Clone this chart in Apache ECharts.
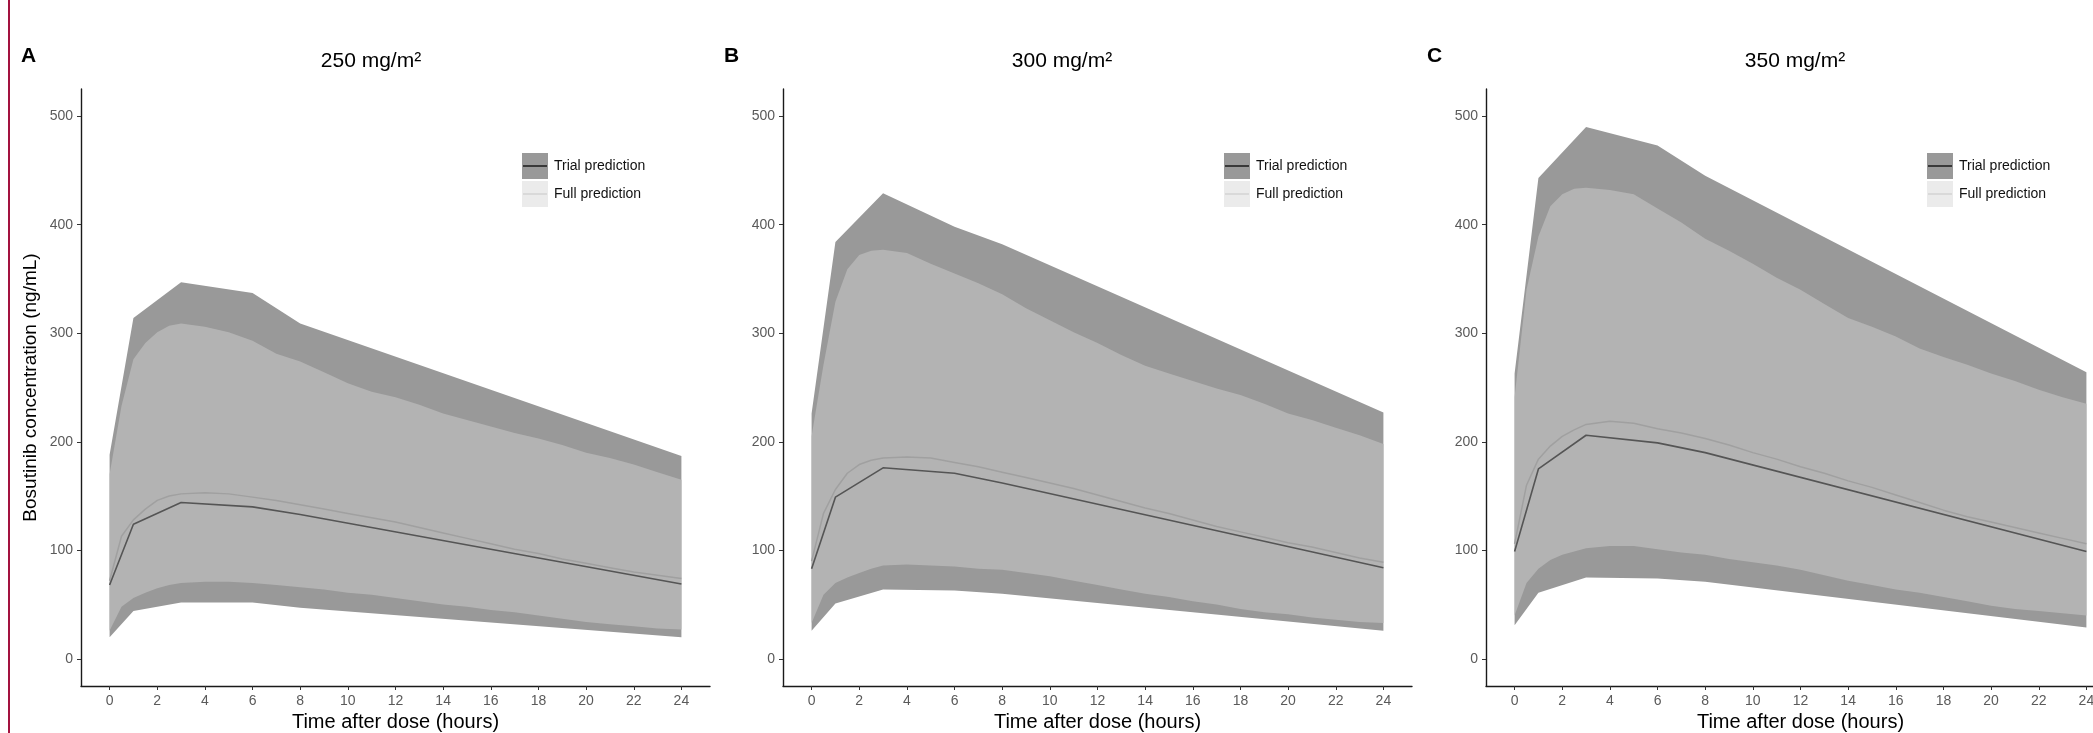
<!DOCTYPE html>
<html>
<head>
<meta charset="utf-8">
<script src="https://cdn.jsdelivr.net/npm/echarts@6/dist/echarts.min.js"></script>
<style>
  html, body { margin: 0; padding: 0; background: #fff; }
  #main { width: 2093px; height: 733px; }
</style>
</head>
<body>
<div id="main"></div>
<script>
// 数据：估计值
var panelTitles = ['250 mg/m²', '300 mg/m²', '350 mg/m²'];
var panelLetters = ['A', 'B', 'C'];
var xTicks = [0, 2, 4, 6, 8, 10, 12, 14, 16, 18, 20, 22, 24];
var yTicks = [0, 100, 200, 300, 400, 500];

// Trial prediction（采样时间点）
var trialTimes = [0, 1, 3, 6, 8, 24];
var trialUpper = [
    [188, 314, 347, 337, 309, 187],
    [226, 384, 429, 398, 382, 227],
    [263, 443, 490, 473, 445, 264]
];
var trialLower = [
    [20, 44, 52, 52, 47, 20],
    [26, 51, 64, 63, 60, 26],
    [31, 61, 75, 74, 71, 29]
];
var trialMean = [
    [68, 124, 144, 140, 133, 69],
    [83, 149, 176, 171, 162, 84],
    [99, 175, 206, 199, 190, 99]
];

// Full prediction（连续曲线）
var fullTimes = [0, 0.5, 1, 1.5, 2, 2.5, 3, 4, 5, 6, 7, 8, 9, 10, 11, 12, 13, 14, 15, 16, 17, 18, 19, 20, 21, 22, 23, 24];
var fullUpper = [
    [170, 233, 276, 291, 301, 307, 309, 306, 301, 293, 281, 274, 264, 254, 246, 241, 234, 226, 220, 214, 208, 203, 197, 190, 185, 179, 172, 165],
    [205, 271, 329, 359, 372, 376, 377, 374, 364, 355, 346, 336, 323, 312, 301, 291, 280, 270, 263, 256, 249, 243, 235, 226, 220, 213, 206, 198],
    [241, 340, 389, 417, 428, 433, 434, 432, 428, 415, 402, 387, 376, 364, 351, 340, 327, 314, 306, 297, 286, 278, 271, 263, 256, 248, 241, 235]
];
var fullLower = [
    [26, 48, 56, 61, 65, 68, 70, 71, 71, 70, 68, 66, 64, 61, 59, 56, 53, 50, 48, 45, 43, 40, 37, 34, 32, 30, 28, 27],
    [33, 59, 70, 75, 79, 83, 86, 87, 86, 85, 83, 82, 79, 76, 72, 68, 64, 60, 57, 53, 50, 46, 43, 41, 38, 36, 34, 33],
    [40, 70, 83, 91, 96, 99, 102, 104, 104, 101, 98, 96, 92, 89, 86, 82, 77, 72, 68, 64, 61, 57, 53, 49, 46, 44, 42, 40]
];
var fullMean = [
    [72, 113, 128, 138, 146, 150, 152, 153, 152, 149, 146, 142, 138, 134, 130, 126, 121, 116, 111, 106, 101, 97, 92, 88, 84, 80, 77, 74],
    [90, 134, 156, 171, 179, 183, 185, 186, 185, 181, 177, 172, 167, 162, 157, 151, 145, 139, 134, 128, 122, 117, 112, 107, 103, 98, 93, 89],
    [106, 160, 184, 196, 205, 211, 216, 219, 217, 212, 208, 203, 197, 190, 184, 177, 171, 164, 158, 151, 144, 137, 131, 126, 121, 116, 111, 106]
];

(function() {
    var myChart = echarts.init(document.getElementById('main'));

    var FONT = 'Liberation Sans, Arial, sans-serif';
    var gridLefts = [81, 783, 1486];
    var gridWidth = 629;
    var titleCenters = [371, 1062, 1795];
    var letterLefts = [21, 724, 1427];

    function pairs(xs, ys) {
        return xs.map(function(x, i) { return [x, ys[i]]; });
    }
    // [t, 下限, 上限]
    function triples(xs, lo, hi) {
        return xs.map(function(x, i) { return [x, lo[i], hi[i]]; });
    }

    // 用 custom 系列画带状区间：在第一个数据项上画出整个多边形
    function bandRender(params, api) {
        if (params.dataIndexInside !== 0) return;
        var n = params.dataInsideLength;
        var top = [], bottom = [];
        for (var i = 0; i < n; i++) {
            top.push(api.coord([api.value(0, i), api.value(2, i)]));
            bottom.unshift(api.coord([api.value(0, i), api.value(1, i)]));
        }
        return {
            type: 'polygon',
            shape: { points: top.concat(bottom) },
            style: { fill: api.visual('color') }
        };
    }

    var grids = [], xAxes = [], yAxes = [], series = [], graphics = [];

    // 左侧的红色竖线
    graphics.push({
        type: 'rect', shape: { x: 8, y: 0, width: 2, height: 733 },
        style: { fill: '#a3123f' }, silent: true
    });

    for (var p = 0; p < 3; p++) {
        // 第三个面板超出画布右边，关掉 outerBounds 以免被压缩
        grids.push({ left: gridLefts[p], top: 89, width: gridWidth, height: 597, outerBoundsMode: 'none', containLabel: false });

        xAxes.push({
            type: 'value', gridIndex: p, min: -1.2, max: 25.2,
            name: 'Time after dose (hours)',
            nameLocation: 'middle', nameGap: 26,
            nameTextStyle: { fontFamily: FONT, fontSize: 20, color: '#000' },
            axisLine: { show: true, onZero: false, lineStyle: { color: '#1a1a1a', width: 1.4 } },
            axisTick: { show: true, length: 4, customValues: xTicks, lineStyle: { color: '#333' } },
            axisLabel: { customValues: xTicks, color: '#5a5a5a', fontSize: 14, fontFamily: FONT, margin: 8 },
            splitLine: { show: false }
        });

        yAxes.push({
            type: 'value', gridIndex: p, min: -25, max: 525,
            name: p === 0 ? 'Bosutinib concentration (ng/mL)' : '',
            nameLocation: 'middle', nameGap: 41, nameRotate: 90,
            nameTextStyle: { fontFamily: FONT, fontSize: 19, color: '#000' },
            axisLine: { show: true, onZero: false, lineStyle: { color: '#1a1a1a', width: 1.4 } },
            axisTick: { show: true, length: 4, customValues: yTicks, lineStyle: { color: '#333' } },
            axisLabel: { customValues: yTicks, color: '#5a5a5a', fontSize: 14, fontFamily: FONT, margin: 8 },
            splitLine: { show: false }
        });

        // Trial 预测区间
        series.push({
            type: 'custom', name: 'trialBand' + p, xAxisIndex: p, yAxisIndex: p,
            silent: true, renderItem: bandRender,
            itemStyle: { color: '#999999' },
            encode: { x: 0, y: [1, 2] },
            data: triples(trialTimes, trialLower[p], trialUpper[p]),
            z: 1
        });
        // Full 预测区间
        series.push({
            type: 'custom', name: 'fullBand' + p, xAxisIndex: p, yAxisIndex: p,
            silent: true, renderItem: bandRender,
            itemStyle: { color: '#b3b3b3' },
            encode: { x: 0, y: [1, 2] },
            data: triples(fullTimes, fullLower[p], fullUpper[p]),
            z: 2
        });
        // 中位线
        series.push({
            type: 'line', name: 'fullMean' + p, xAxisIndex: p, yAxisIndex: p,
            symbol: 'none', silent: true, z: 3,
            data: pairs(fullTimes, fullMean[p]),
            lineStyle: { color: '#a0a0a0', width: 1.5 }
        });
        series.push({
            type: 'line', name: 'trialMean' + p, xAxisIndex: p, yAxisIndex: p,
            symbol: 'none', silent: true, z: 4,
            data: pairs(trialTimes, trialMean[p]),
            lineStyle: { color: '#555555', width: 1.6 }
        });

        // 面板字母和标题
        graphics.push({
            type: 'text', left: letterLefts[p], top: 46,
            style: { text: panelLetters[p], fontFamily: FONT, fontSize: 21, fontWeight: 'bold', fill: '#000' }
        });
        graphics.push({
            type: 'text', x: titleCenters[p], y: 61,
            style: { text: panelTitles[p], fontFamily: FONT, fontSize: 21, fill: '#000', align: 'center', verticalAlign: 'middle' }
        });

        // 图例（手工绘制）
        var kx = gridLefts[p] + 441;
        graphics.push({ type: 'rect', shape: { x: kx, y: 153, width: 26, height: 26 }, style: { fill: '#999999' }, silent: true });
        graphics.push({ type: 'line', shape: { x1: kx + 1, y1: 166, x2: kx + 25, y2: 166 }, style: { stroke: '#1a1a1a', lineWidth: 1.5 }, silent: true });
        graphics.push({ type: 'rect', shape: { x: kx, y: 181, width: 26, height: 26 }, style: { fill: '#ebebeb' }, silent: true });
        graphics.push({ type: 'line', shape: { x1: kx + 1, y1: 194, x2: kx + 25, y2: 194 }, style: { stroke: '#d3d3d3', lineWidth: 1.5 }, silent: true });
        graphics.push({
            type: 'text', x: kx + 32, y: 166,
            style: { text: 'Trial prediction', fontFamily: FONT, fontSize: 14, fill: '#111', verticalAlign: 'middle' }
        });
        graphics.push({
            type: 'text', x: kx + 32, y: 194,
            style: { text: 'Full prediction', fontFamily: FONT, fontSize: 14, fill: '#111', verticalAlign: 'middle' }
        });
    }

    var option = {
        backgroundColor: '#fff',
        animation: false,
        grid: grids,
        xAxis: xAxes,
        yAxis: yAxes,
        series: series,
        graphic: graphics
    };

    myChart.setOption(option);

    window.addEventListener('resize', function() {
        myChart.resize();
    });
})();
</script>
</body>
</html>
